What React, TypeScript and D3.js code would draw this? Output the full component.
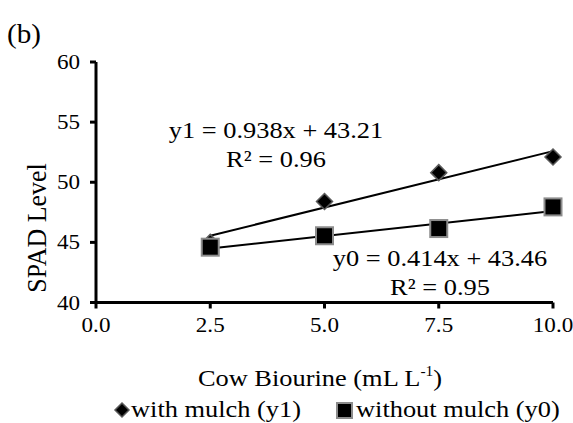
import React from "react";
import * as d3 from "d3";

const doses = [2.5, 5.0, 7.5, 10.0];
const withMulch = [45.0, 48.4, 50.8, 52.1];
const withoutMulch = [44.6, 45.55, 46.15, 47.95];
const fitWith = { slope: 0.938, intercept: 43.21 };
const fitWithout = { slope: 0.414, intercept: 43.46 };
const xTicks = [0, 2.5, 5.0, 7.5, 10.0];
const yTicks = [40, 45, 50, 55, 60];

const W = 573;
const H = 423;
const FONT = "'Liberation Serif', 'Times New Roman', serif";
const SX = 1.1;

function T(props: { x: number; y: number; size: number; anchor?: string; sx?: number; children: React.ReactNode }) {
  const { x, y, size, anchor = "start", sx = SX, children } = props;
  return (
    <text transform={`translate(${x},${y}) scale(${sx},1)`} fontSize={size} textAnchor={anchor} fill="#000">
      {children}
    </text>
  );
}

export default function App() {
  const x = d3.scaleLinear().domain([0, 10]).range([96, 553]);
  const y = d3.scaleLinear().domain([40, 60]).range([302.5, 62]);
  const fitLine = (f: { slope: number; intercept: number }) =>
    d3.line<number>().x((d) => x(d)).y((d) => y(f.slope * d + f.intercept))([2.5, 10]) || "";

  const diamond = (cx: number, cy: number, r: number) =>
    `M${cx},${cy - r}L${cx + r},${cy}L${cx},${cy + r}L${cx - r},${cy}Z`;

  return (
    <svg width={W} height={H} style={{ position: "absolute", left: 0, top: 0, background: "#fff" }} fontFamily={FONT}>
      <T x={7} y={43} size={28} sx={1.04}>(b)</T>

      {/* axes */}
      <line x1={x(0)} x2={x(10)} y1={y(40)} y2={y(40)} stroke="#000" strokeWidth={3} />
      <line x1={x(0)} x2={x(0)} y1={y(40)} y2={y(60)} stroke="#000" strokeWidth={3} />
      {yTicks.map((t) => (
        <g key={"y" + t}>
          <line x1={x(0) - 6} x2={x(0)} y1={y(t)} y2={y(t)} stroke="#000" strokeWidth={3} />
          <T x={80} y={y(t) + 7} size={21} anchor="end">{t}</T>
        </g>
      ))}
      {xTicks.map((t) => (
        <g key={"x" + t}>
          <line x1={x(t)} x2={x(t)} y1={y(40)} y2={y(40) + 6} stroke="#000" strokeWidth={3} />
          <T x={x(t)} y={332} size={21} anchor="middle">{t.toFixed(1)}</T>
        </g>
      ))}

      <text transform={`translate(46,228) rotate(-90) scale(1.08,1.1)`} fontSize={24} textAnchor="middle" fill="#000">SPAD Level</text>
      <T x={320} y={386} size={24} anchor="middle">
        Cow Biourine (mL L<tspan fontSize={14} dy={-10}>-1</tspan><tspan dy={10}>)</tspan>
      </T>

      {/* trendlines */}
      <path d={fitLine(fitWith)} stroke="#000" strokeWidth={2} fill="none" />
      <path d={fitLine(fitWithout)} stroke="#000" strokeWidth={2} fill="none" />

      {/* markers */}
      {doses.map((d, i) => (
        <path key={"d" + i} d={diamond(x(d), y(withMulch[i]), 8)} fill="#000" stroke="#595959" strokeWidth={1.5} />
      ))}
      {doses.map((d, i) => (
        <rect key={"s" + i} x={x(d) - 8.5} y={y(withoutMulch[i]) - 8.5} width={17} height={17} fill="#000" stroke="#8c8c8c" strokeWidth={2} />
      ))}

      {/* equations */}
      <T x={276} y={138} size={24} anchor="middle">y1 = 0.938x + 43.21</T>
      <T x={276} y={167} size={24} anchor="middle">R² = 0.96</T>
      <T x={440} y={266} size={24} anchor="middle">y0 = 0.414x + 43.46</T>
      <T x={440} y={295} size={24} anchor="middle">R² = 0.95</T>

      {/* legend */}
      <path d={diamond(122, 410, 7)} fill="#000" stroke="#595959" strokeWidth={1.5} />
      <T x={131} y={417} size={24}>with mulch (y1)</T>
      <rect x={337} y={403} width={15} height={15} fill="#000" stroke="#8c8c8c" strokeWidth={2} />
      <T x={356} y={417} size={24}>without mulch (y0)</T>
    </svg>
  );
}
